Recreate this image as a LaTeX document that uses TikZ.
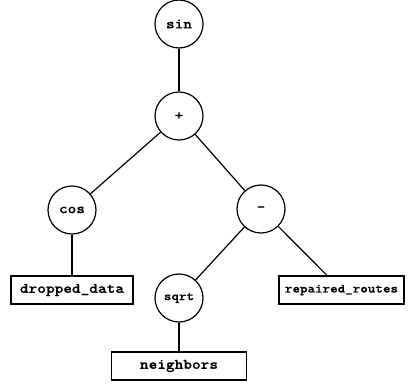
\documentclass[tikz,border=0pt]{standalone}
\usepackage{fontspec}
% slab-serif typewriter face, widened to Courier-like proportions
\newfontfamily\treefont{lmmonolt10-bold.otf}[FakeStretch=1.14,FakeBold=0.6]
\begin{document}
\begin{tikzpicture}[x=1pt,y=-1pt,
  op/.style={draw,circle,line width=1.2pt,minimum size=48pt,inner sep=0pt,
    font=\treefont\fontsize{14.5}{16}\selectfont},
  leaf/.style={draw,rectangle,line width=1.2pt,minimum height=28pt,inner sep=0pt,
    font=\treefont\fontsize{14.5}{16}\selectfont},
  small/.style={font=\treefont\fontsize{12.6}{14}\selectfont},
  edge/.style={line width=1.2pt}]
\useasboundingbox (0,0) rectangle (408,385);
% operator nodes
\node[op] (sin) at (179,24) {sin};
\node[op] (plus) at (179,116) {+};
\node[op] (cos) at (72,210) {cos};
\node[op] (minus) at (261,209) {-};
\node[op,small] (sqrt) at (179,298) {sqrt};
% leaf nodes
\node[leaf,minimum width=122pt] (dropped) at (72,290) {dropped\_data};
\node[leaf,small,minimum width=125pt] (repaired) at (341.5,290) {repaired\_routes};
\node[leaf,minimum width=135pt] (neighbors) at (179,366) {neighbors};
% tree edges
\draw[edge] (sin) -- (plus);
\draw[edge] (plus) -- (cos);
\draw[edge] (plus) -- (minus);
\draw[edge] (cos) -- (dropped);
\draw[edge] (minus) -- (sqrt);
\draw[edge] (minus) -- (repaired);
\draw[edge] (sqrt) -- (neighbors);
\end{tikzpicture}
\end{document}
